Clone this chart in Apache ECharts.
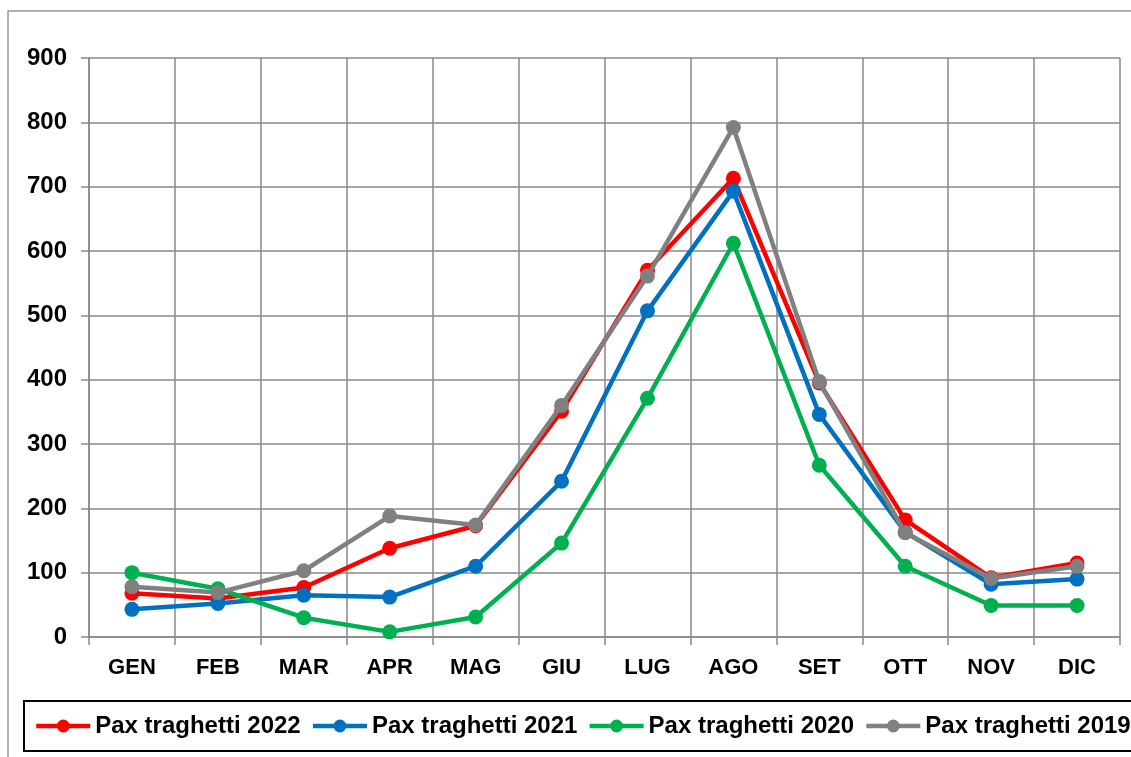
<!DOCTYPE html>
<html><head><meta charset="utf-8">
<script src="https://cdn.jsdelivr.net/npm/echarts@6/dist/echarts.min.js"></script>
<style>html,body{margin:0;padding:0;background:#fff}#c{width:1131px;height:757px}</style>
</head><body><div id="c"></div>
<script>
const categories = ['GEN','FEB','MAR','APR','MAG','GIU','LUG','AGO','SET','OTT','NOV','DIC'];
const yTicks = [0,100,200,300,400,500,600,700,800,900];
const s2022 = [68, 60, 77, 138, 173, 351, 570, 713, 395, 182, 92, 115];
const s2021 = [43, 52, 65, 62, 110, 242, 507, 693, 346, 163, 82, 90];
const s2020 = [100, 75, 30, 8, 31, 146, 371, 612, 267, 110, 49, 49];
const s2019 = [78, 69, 103, 188, 174, 360, 561, 792, 397, 162, 91, 110];
const names = ['Pax traghetti 2022','Pax traghetti 2021','Pax traghetti 2020','Pax traghetti 2019'];
const colors = ['#FF0000','#0070C0','#00B050','#808080'];
const data = [s2022, s2021, s2020, s2019];
const FONT = '"Liberation Sans", Arial, sans-serif';
const chart = echarts.init(document.getElementById('c'), null, {renderer:'canvas'});
chart.setOption({
  animation:false,
  backgroundColor:'#fff',
  graphic:[{type:'rect', shape:{x:8,y:11,width:1300,height:900}, style:{fill:'none', stroke:'#999', lineWidth:1.5}, z:-10}],
  grid:{left:89, right:11, top:58, bottom:120, containLabel:false},
  legend:{
    left:24, top:701, orient:'horizontal', width:1400,
    borderColor:'#000', borderWidth:2, padding:[13,40,13,10],
    itemWidth:54, itemHeight:16, itemGap:10,
    lineStyle:{width:4.5},
    textStyle:{fontFamily:FONT, fontWeight:'bold', fontSize:24, color:'#000'},
    data:names
  },
  xAxis:{
    type:'category', data:categories, boundaryGap:true,
    axisLine:{show:true, lineStyle:{color:'#888', width:1.5}},
    axisTick:{show:true, length:8, lineStyle:{color:'#888', width:1.5}},
    splitLine:{show:true, lineStyle:{color:'#888', width:1.5}},
    axisLabel:{fontFamily:FONT, fontWeight:'bold', fontSize:22, color:'#000', margin:20}
  },
  yAxis:{
    type:'value', min:0, max:900, interval:100,
    axisLine:{show:true, lineStyle:{color:'#888', width:1.5}},
    axisTick:{show:true, length:8, lineStyle:{color:'#888', width:1.5}},
    splitLine:{show:true, lineStyle:{color:'#888', width:1.5}},
    axisLabel:{fontFamily:FONT, fontWeight:'bold', fontSize:24, color:'#000', margin:22,
      formatter: v => yTicks.includes(v) ? String(v) : ''}
  },
  series: data.map((d,i)=>({
    name:names[i], type:'line', data:d, symbol:'circle', symbolSize:15,
    lineStyle:{color:colors[i], width:4.5}, itemStyle:{color:colors[i]},
    z:2+i
  }))
});
</script></body></html>
